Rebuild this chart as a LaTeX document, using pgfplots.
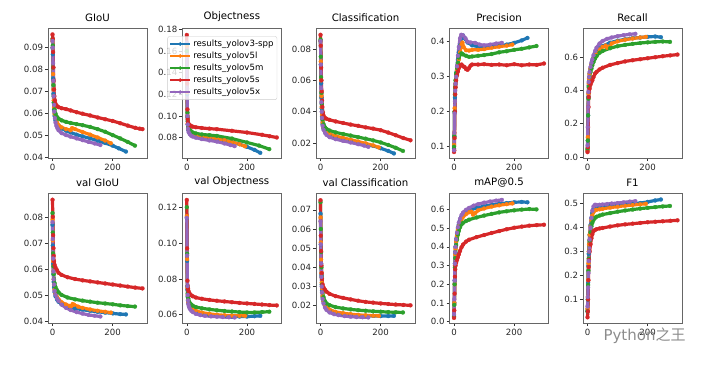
\documentclass[border=0pt]{standalone}
\usepackage{pgfplots}
\pgfplotsset{compat=1.18}
\usepackage{fontspec}
\setmainfont{DejaVu Sans}
\newfontfamily\cjk{Noto Sans CJK SC}
\definecolor{c1}{HTML}{1F77B4}
\definecolor{c2}{HTML}{FF7F0E}
\definecolor{c3}{HTML}{2CA02C}
\definecolor{c4}{HTML}{D62728}
\definecolor{c5}{HTML}{9467BD}
\pgfplotsset{
  panel/.style={scale only axis, width=99pt, height=129.5pt,
    xmin=-15, xmax=314, xtick={0,200}, xticklabels={0,200},
    scaled y ticks=false,
    tick align=outside, xtick pos=bottom, ytick pos=left,
    major tick length=3pt,
    tick style={black!80, line width=0.6pt},
    axis line style={black!60, line width=0.7pt},
    tick label style={font=\fontsize{8.6}{9}\selectfont, text=black!85},
    yticklabel style={inner sep=1.8pt},
    title style={font=\fontsize{10.2}{12}\selectfont, yshift=-1.5pt, inner sep=2pt},
    /pgf/number format/assume math mode=true,
    clip=true},
  y2/.style={yticklabel style={/pgf/number format/fixed, /pgf/number format/fixed zerofill, /pgf/number format/precision=2}},
  y1/.style={yticklabel style={/pgf/number format/fixed, /pgf/number format/fixed zerofill, /pgf/number format/precision=1}},
  ser/.style={color=#1, mark=*, mark size=2pt, line width=3.2pt, line join=round, mark options={line width=0.2pt}},
}
\begin{document}
\begin{tikzpicture}
\path[use as bounding box] (0pt,0pt) rectangle (712pt,369pt);
% ---------- GIoU
\begin{axis}[panel, y2, at={(48pt,211pt)}, anchor=south west, title={GIoU},
  ymin=0.0399, ymax=0.0987, ytick={0.04,0.05,0.06,0.07,0.08,0.09}]
\addplot[ser=c1] coordinates {(0,0.090)(1,0.087)(2,0.076)(3,0.069)(4,0.065)(5,0.062)(7,0.059)(10,0.057)(15,0.0555)(20,0.0545)(30,0.0533)(45,0.0523)(60,0.0515)(80,0.0505)(100,0.0497)(125,0.0488)(150,0.0478)(175,0.0467)(200,0.0455)(220,0.0443)(244,0.0428)};
\addplot[ser=c2] coordinates {(0,0.093)(1,0.090)(2,0.078)(3,0.071)(4,0.066)(5,0.063)(7,0.060)(10,0.058)(15,0.056)(20,0.0548)(30,0.0538)(45,0.0530)(60,0.0525)(65,0.0535)(75,0.0530)(100,0.0517)(125,0.0505)(150,0.0492)(175,0.0478)(194,0.0466)};
\addplot[ser=c3] coordinates {(0,0.094)(1,0.091)(2,0.081)(3,0.073)(4,0.068)(5,0.065)(7,0.062)(10,0.0600)(15,0.0585)(20,0.0578)(30,0.0570)(45,0.0563)(60,0.0558)(80,0.0553)(100,0.0548)(125,0.0540)(150,0.0530)(175,0.0518)(200,0.0503)(225,0.0488)(250,0.0472)(274,0.0455)};
\addplot[ser=c4] coordinates {(0,0.096)(1,0.094)(2,0.088)(3,0.081)(4,0.075)(5,0.071)(6,0.068)(8,0.066)(10,0.0645)(15,0.0635)(20,0.0630)(30,0.0625)(45,0.0621)(60,0.0615)(80,0.0607)(100,0.0600)(125,0.0592)(150,0.0583)(175,0.0575)(200,0.0567)(225,0.0557)(250,0.0546)(275,0.0536)(290,0.0532)(299,0.0530)};
\addplot[ser=c5] coordinates {(0,0.093)(1,0.090)(2,0.083)(3,0.075)(4,0.068)(5,0.064)(6,0.061)(8,0.058)(10,0.056)(13,0.0545)(16,0.0535)(20,0.0525)(30,0.0512)(45,0.0503)(60,0.0496)(80,0.0488)(100,0.0480)(120,0.0472)(140,0.0465)(159,0.0458)};
\end{axis}
% ---------- Objectness
\begin{axis}[panel, y2, at={(182.3pt,211pt)}, anchor=south west, title={Objectness},
  ymin=0.061, ymax=0.181, ytick={0.08,0.10,0.12,0.14,0.16,0.18},
  legend style={at={(-0.15,0.94)}, anchor=north west, font=\fontsize{8.6}{10}\selectfont,
    draw=black!20, fill=white, fill opacity=0.8, text opacity=1, rounded corners=2pt,
    inner sep=1.5pt, row sep=0pt},
  legend cell align=left,
  legend image code/.code={\draw[mark repeat=2,mark phase=2,line width=2.2pt,mark size=1.8pt] plot coordinates {(0pt,0pt) (10pt,0pt) (20pt,0pt)};}]
\addplot[ser=c1] coordinates {(0,0.160)(1,0.120)(2,0.099)(3,0.092)(5,0.087)(8,0.085)(12,0.0838)(20,0.0825)(30,0.0815)(50,0.0805)(75,0.0795)(100,0.0785)(125,0.0772)(150,0.0757)(175,0.0738)(200,0.0713)(225,0.0685)(244,0.0658)};
\addplot[ser=c2] coordinates {(0,0.165)(1,0.122)(2,0.100)(3,0.093)(5,0.088)(8,0.086)(12,0.0845)(20,0.0830)(30,0.0820)(50,0.0810)(75,0.0800)(100,0.0790)(125,0.0775)(150,0.0758)(175,0.0738)(194,0.0718)};
\addplot[ser=c3] coordinates {(0,0.160)(1,0.125)(2,0.103)(3,0.095)(5,0.090)(8,0.088)(12,0.0865)(20,0.0846)(30,0.0838)(50,0.0828)(75,0.0822)(100,0.0815)(150,0.0790)(200,0.0754)(240,0.0725)(274,0.0692)};
\addplot[ser=c4] coordinates {(0,0.175)(1,0.130)(2,0.106)(3,0.097)(4,0.094)(6,0.0925)(10,0.0915)(15,0.0905)(20,0.0900)(30,0.0895)(50,0.0888)(75,0.0882)(100,0.0877)(150,0.0862)(200,0.0846)(250,0.0825)(275,0.0812)(299,0.0800)};
\addplot[ser=c5] coordinates {(0,0.168)(1,0.125)(2,0.100)(3,0.092)(4,0.088)(6,0.085)(10,0.0830)(15,0.0815)(20,0.0808)(30,0.0798)(50,0.0785)(75,0.0773)(100,0.0762)(125,0.0745)(145,0.0730)(159,0.0720)};
\legend{results\_yolov3-spp,results\_yolov5l,results\_yolov5m,results\_yolov5s,results\_yolov5x}
\end{axis}
% ---------- Classification
\begin{axis}[panel, y2, at={(316pt,211pt)}, anchor=south west, title={Classification},
  ymin=0.0105, ymax=0.093, ytick={0.02,0.04,0.06,0.08}]
\addplot[ser=c1] coordinates {(0,0.085)(1,0.070)(2,0.058)(3,0.049)(4,0.042)(5,0.037)(7,0.032)(10,0.0295)(15,0.0275)(20,0.0265)(30,0.0253)(50,0.0240)(75,0.0228)(100,0.0217)(125,0.0206)(150,0.0194)(175,0.0182)(200,0.0167)(225,0.0150)(244,0.0134)};
\addplot[ser=c2] coordinates {(0,0.085)(1,0.072)(2,0.060)(3,0.050)(4,0.043)(5,0.038)(7,0.033)(10,0.0300)(15,0.0280)(20,0.0270)(30,0.0258)(50,0.0245)(75,0.0233)(100,0.0222)(125,0.0210)(150,0.0198)(175,0.0185)(194,0.0172)};
\addplot[ser=c3] coordinates {(0,0.086)(1,0.075)(2,0.062)(3,0.052)(4,0.045)(5,0.040)(7,0.035)(10,0.0320)(15,0.0300)(20,0.0290)(30,0.0280)(50,0.0268)(75,0.0258)(100,0.0248)(125,0.0238)(150,0.0228)(175,0.0217)(200,0.0204)(225,0.0188)(250,0.0170)(274,0.0150)};
\addplot[ser=c4] coordinates {(0,0.089)(1,0.082)(2,0.068)(3,0.060)(4,0.053)(5,0.047)(6,0.043)(8,0.0395)(10,0.0375)(15,0.0360)(20,0.0355)(30,0.0348)(50,0.0338)(75,0.0328)(100,0.0318)(125,0.0310)(150,0.0300)(175,0.0292)(200,0.0282)(225,0.0267)(250,0.0250)(275,0.0232)(299,0.0218)};
\addplot[ser=c5] coordinates {(0,0.085)(1,0.070)(2,0.055)(3,0.046)(4,0.040)(5,0.036)(7,0.031)(10,0.0285)(15,0.0265)(20,0.0252)(30,0.0238)(50,0.0225)(75,0.0214)(100,0.0204)(125,0.0193)(145,0.0184)(159,0.0176)};
\end{axis}
% ---------- Precision
\begin{axis}[panel, y1, at={(449.5pt,211pt)}, anchor=south west, title={Precision},
  ymin=0.068, ymax=0.438, ytick={0.1,0.2,0.3,0.4}]
\addplot[ser=c1] coordinates {(0,0.095)(1,0.13)(2,0.20)(3,0.24)(4,0.27)(5,0.28)(7,0.31)(10,0.33)(13,0.35)(16,0.37)(20,0.39)(25,0.412)(30,0.418)(35,0.410)(45,0.398)(60,0.390)(80,0.386)(100,0.385)(125,0.385)(150,0.388)(175,0.392)(200,0.397)(225,0.404)(244,0.411)};
\addplot[ser=c2] coordinates {(0,0.105)(1,0.14)(2,0.21)(3,0.25)(4,0.27)(5,0.28)(7,0.30)(10,0.32)(13,0.335)(16,0.350)(20,0.370)(25,0.392)(28,0.398)(32,0.385)(40,0.376)(50,0.375)(60,0.377)(80,0.377)(100,0.379)(125,0.383)(150,0.386)(175,0.389)(194,0.392)};
\addplot[ser=c3] coordinates {(0,0.10)(1,0.13)(2,0.20)(3,0.25)(4,0.27)(5,0.29)(7,0.31)(10,0.325)(13,0.34)(16,0.355)(20,0.363)(25,0.367)(30,0.364)(40,0.360)(50,0.357)(60,0.358)(80,0.360)(100,0.362)(125,0.365)(150,0.370)(175,0.373)(200,0.377)(225,0.380)(250,0.384)(274,0.388)};
\addplot[ser=c4] coordinates {(0,0.085)(1,0.090)(2,0.125)(3,0.20)(4,0.25)(5,0.27)(7,0.29)(10,0.305)(13,0.315)(16,0.325)(20,0.333)(25,0.335)(30,0.330)(35,0.328)(40,0.322)(45,0.320)(50,0.325)(55,0.332)(60,0.335)(80,0.335)(100,0.336)(125,0.334)(150,0.335)(175,0.333)(200,0.336)(225,0.333)(250,0.335)(275,0.334)(299,0.338)};
\addplot[ser=c5] coordinates {(0,0.09)(1,0.14)(2,0.195)(3,0.23)(4,0.26)(5,0.28)(7,0.30)(10,0.33)(13,0.36)(16,0.385)(20,0.41)(24,0.42)(30,0.418)(38,0.410)(45,0.400)(55,0.398)(70,0.397)(85,0.392)(100,0.390)(120,0.392)(140,0.395)(159,0.397)};
\end{axis}
% ---------- Recall
\begin{axis}[panel, y1, at={(583pt,211pt)}, anchor=south west, title={Recall},
  ymin=-0.005, ymax=0.77, ytick={0,0.2,0.4,0.6}]
\addplot[ser=c1] coordinates {(0,0.04)(1,0.10)(2,0.25)(3,0.36)(4,0.43)(5,0.46)(7,0.50)(10,0.53)(13,0.555)(16,0.575)(20,0.595)(25,0.615)(30,0.63)(40,0.65)(50,0.665)(75,0.685)(100,0.697)(125,0.705)(150,0.712)(175,0.716)(200,0.720)(225,0.722)(244,0.718)};
\addplot[ser=c2] coordinates {(0,0.04)(1,0.12)(2,0.30)(3,0.38)(4,0.44)(5,0.47)(7,0.50)(10,0.53)(13,0.55)(16,0.57)(20,0.59)(25,0.61)(30,0.625)(40,0.645)(50,0.660)(60,0.668)(65,0.655)(70,0.660)(80,0.680)(100,0.693)(125,0.703)(150,0.710)(175,0.716)(194,0.720)};
\addplot[ser=c3] coordinates {(0,0.05)(1,0.10)(2,0.25)(3,0.35)(4,0.42)(5,0.45)(7,0.48)(10,0.51)(13,0.53)(16,0.55)(20,0.57)(25,0.59)(30,0.605)(40,0.625)(50,0.635)(75,0.652)(100,0.664)(125,0.672)(150,0.678)(175,0.683)(200,0.687)(225,0.690)(250,0.692)(274,0.690)};
\addplot[ser=c4] coordinates {(0,0.03)(1,0.06)(2,0.18)(3,0.30)(4,0.36)(5,0.39)(7,0.41)(10,0.435)(13,0.45)(16,0.46)(20,0.48)(25,0.50)(30,0.51)(40,0.525)(50,0.535)(75,0.552)(100,0.563)(125,0.573)(150,0.580)(175,0.586)(200,0.592)(225,0.598)(250,0.604)(275,0.609)(299,0.614)};
\addplot[ser=c5] coordinates {(0,0.07)(1,0.18)(2,0.30)(3,0.39)(4,0.45)(5,0.48)(7,0.51)(10,0.54)(13,0.565)(16,0.585)(20,0.61)(25,0.635)(30,0.655)(40,0.680)(50,0.695)(65,0.708)(80,0.716)(100,0.724)(120,0.730)(140,0.735)(159,0.738)};
\end{axis}
% ---------- val GIoU
\begin{axis}[panel, y2, at={(48pt,46pt)}, anchor=south west, title={val GIoU},
  ymin=0.0392, ymax=0.089, ytick={0.04,0.05,0.06,0.07,0.08}]
\addplot[ser=c1] coordinates {(0,0.077)(1,0.069)(2,0.062)(3,0.058)(4,0.055)(5,0.053)(7,0.051)(10,0.0495)(15,0.0482)(20,0.0474)(30,0.0464)(50,0.0455)(75,0.0448)(100,0.0443)(125,0.0439)(150,0.0435)(175,0.0432)(200,0.0429)(225,0.0426)(244,0.0425)};
\addplot[ser=c2] coordinates {(0,0.079)(1,0.071)(2,0.063)(3,0.059)(4,0.056)(5,0.054)(7,0.052)(10,0.0505)(15,0.0492)(20,0.0483)(30,0.0472)(45,0.0463)(55,0.0458)(62,0.0456)(67,0.0465)(72,0.0462)(85,0.0455)(100,0.0450)(125,0.0444)(150,0.0439)(175,0.0435)(194,0.0432)};
\addplot[ser=c3] coordinates {(0,0.0815)(1,0.074)(2,0.066)(3,0.061)(4,0.058)(5,0.056)(7,0.0545)(10,0.0530)(15,0.0518)(20,0.0510)(30,0.0500)(50,0.0490)(75,0.0483)(100,0.0478)(125,0.0474)(150,0.0470)(175,0.0467)(200,0.0464)(225,0.0460)(250,0.0457)(274,0.0455)};
\addplot[ser=c4] coordinates {(0,0.0866)(1,0.080)(2,0.073)(3,0.068)(4,0.065)(5,0.063)(7,0.0615)(10,0.0605)(15,0.0595)(20,0.0585)(30,0.0577)(50,0.0568)(75,0.0561)(100,0.0556)(125,0.0552)(150,0.0548)(175,0.0544)(200,0.0540)(225,0.0536)(250,0.0532)(275,0.0528)(299,0.0525)};
\addplot[ser=c5] coordinates {(0,0.078)(1,0.0715)(2,0.064)(3,0.059)(4,0.056)(5,0.054)(7,0.0515)(10,0.0500)(15,0.0487)(20,0.0477)(30,0.0463)(45,0.0450)(60,0.0442)(80,0.0434)(100,0.0428)(120,0.0423)(140,0.0420)(159,0.0417)};
\end{axis}
% ---------- val Objectness
\begin{axis}[panel, y2, at={(182.3pt,46pt)}, anchor=south west, title={val Objectness},
  ymin=0.0554, ymax=0.1276, ytick={0.06,0.08,0.10,0.12}]
\addplot[ser=c1] coordinates {(0,0.114)(1,0.090)(2,0.074)(3,0.070)(4,0.068)(5,0.0665)(7,0.065)(10,0.064)(15,0.063)(20,0.0623)(30,0.0615)(50,0.0606)(75,0.0600)(100,0.0596)(125,0.0593)(150,0.0591)(175,0.0590)(200,0.0590)(225,0.0592)(244,0.0594)};
\addplot[ser=c2] coordinates {(0,0.115)(1,0.091)(2,0.075)(3,0.071)(4,0.0685)(5,0.067)(7,0.0655)(10,0.0645)(15,0.0636)(20,0.0630)(30,0.0622)(50,0.0612)(75,0.0605)(100,0.0600)(125,0.0597)(150,0.0595)(175,0.0594)(194,0.0594)};
\addplot[ser=c3] coordinates {(0,0.120)(1,0.094)(2,0.076)(3,0.072)(4,0.070)(5,0.069)(7,0.0675)(10,0.0665)(15,0.0657)(20,0.0650)(30,0.0643)(50,0.0636)(75,0.0630)(100,0.0625)(125,0.0621)(150,0.0618)(175,0.0615)(200,0.0613)(225,0.0613)(250,0.0615)(274,0.0617)};
\addplot[ser=c4] coordinates {(0,0.124)(1,0.097)(2,0.079)(3,0.076)(4,0.0745)(5,0.0735)(7,0.0725)(10,0.0716)(15,0.0708)(20,0.0703)(30,0.0696)(50,0.0689)(75,0.0683)(100,0.0678)(125,0.0674)(150,0.0670)(175,0.0666)(200,0.0663)(225,0.0660)(250,0.0657)(275,0.0654)(299,0.0652)};
\addplot[ser=c5] coordinates {(0,0.114)(1,0.093)(2,0.076)(3,0.071)(4,0.068)(5,0.066)(7,0.0645)(10,0.0633)(15,0.0622)(20,0.0615)(30,0.0605)(45,0.0598)(60,0.0594)(80,0.0591)(100,0.0589)(120,0.0587)(140,0.0586)(159,0.0585)};
\end{axis}
% ---------- val Classification
\begin{axis}[panel, y2, at={(316pt,46pt)}, anchor=south west, title={val Classification},
  ymin=0.011, ymax=0.0785, ytick={0.02,0.03,0.04,0.05,0.06,0.07}]
\addplot[ser=c1] coordinates {(0,0.068)(1,0.052)(2,0.042)(3,0.036)(4,0.031)(5,0.028)(7,0.0245)(10,0.0222)(15,0.0200)(20,0.0189)(30,0.0177)(50,0.0165)(75,0.0158)(100,0.0153)(125,0.0150)(150,0.0148)(175,0.0147)(200,0.0146)(225,0.0146)(244,0.0147)};
\addplot[ser=c2] coordinates {(0,0.066)(1,0.053)(2,0.044)(3,0.037)(4,0.032)(5,0.029)(7,0.025)(10,0.0225)(15,0.0203)(20,0.0192)(30,0.0180)(50,0.0168)(75,0.0161)(100,0.0156)(125,0.0152)(150,0.0150)(175,0.0148)(194,0.0147)};
\addplot[ser=c3] coordinates {(0,0.074)(1,0.060)(2,0.048)(3,0.040)(4,0.035)(5,0.031)(7,0.027)(10,0.0245)(15,0.0223)(20,0.0212)(30,0.0203)(50,0.0193)(75,0.0186)(100,0.0181)(125,0.0177)(150,0.0174)(175,0.0171)(200,0.0169)(225,0.0167)(250,0.0166)(274,0.0165)};
\addplot[ser=c4] coordinates {(0,0.075)(1,0.0565)(2,0.0485)(3,0.041)(4,0.037)(5,0.034)(7,0.031)(10,0.0295)(15,0.0283)(20,0.0273)(30,0.0262)(50,0.0250)(75,0.0241)(100,0.0233)(125,0.0226)(150,0.0220)(175,0.0216)(200,0.0212)(225,0.0209)(250,0.0206)(275,0.0204)(299,0.0202)};
\addplot[ser=c5] coordinates {(0,0.064)(1,0.052)(2,0.042)(3,0.035)(4,0.030)(5,0.027)(7,0.0235)(10,0.0212)(15,0.0190)(20,0.0178)(30,0.0165)(45,0.0156)(60,0.0151)(80,0.0146)(100,0.0143)(120,0.0141)(140,0.0140)(159,0.0139)};
\end{axis}
% ---------- mAP@0.5
\begin{axis}[panel, y1, at={(449.5pt,46pt)}, anchor=south west, title={mAP@0.5},
  ymin=-0.007, ymax=0.685, ytick={0,0.1,0.2,0.3,0.4,0.5,0.6}]
\addplot[ser=c1] coordinates {(0,0.03)(1,0.10)(2,0.22)(3,0.31)(4,0.37)(5,0.40)(7,0.44)(10,0.47)(13,0.50)(16,0.52)(20,0.54)(25,0.558)(30,0.570)(40,0.585)(50,0.595)(75,0.608)(100,0.617)(125,0.624)(150,0.630)(175,0.634)(200,0.638)(225,0.640)(244,0.638)};
\addplot[ser=c2] coordinates {(0,0.025)(1,0.10)(2,0.20)(3,0.30)(4,0.36)(5,0.39)(7,0.43)(10,0.46)(13,0.49)(16,0.51)(20,0.53)(25,0.548)(30,0.560)(40,0.575)(50,0.585)(58,0.588)(63,0.572)(70,0.580)(80,0.595)(100,0.605)(125,0.615)(150,0.622)(175,0.628)(194,0.632)};
\addplot[ser=c3] coordinates {(0,0.03)(1,0.09)(2,0.20)(3,0.29)(4,0.34)(5,0.37)(7,0.41)(10,0.44)(13,0.465)(16,0.485)(20,0.505)(25,0.520)(30,0.528)(40,0.538)(50,0.545)(75,0.557)(100,0.567)(125,0.576)(150,0.584)(175,0.590)(200,0.595)(225,0.599)(250,0.602)(274,0.600)};
\addplot[ser=c4] coordinates {(0,0.02)(1,0.06)(2,0.15)(3,0.24)(4,0.28)(5,0.30)(7,0.315)(10,0.330)(13,0.345)(16,0.360)(20,0.378)(25,0.398)(30,0.412)(40,0.428)(50,0.438)(75,0.452)(100,0.463)(125,0.474)(150,0.484)(175,0.494)(200,0.502)(225,0.508)(250,0.513)(275,0.516)(299,0.518)};
\addplot[ser=c5] coordinates {(0,0.04)(1,0.12)(2,0.22)(3,0.31)(4,0.37)(5,0.40)(7,0.44)(10,0.475)(13,0.505)(16,0.530)(20,0.550)(25,0.570)(30,0.583)(40,0.598)(50,0.608)(65,0.620)(80,0.628)(100,0.636)(120,0.642)(140,0.647)(159,0.651)};
\end{axis}
% ---------- F1
\begin{axis}[panel, y1, at={(583pt,46pt)}, anchor=south west, title={F1},
  ymin=0.0013, ymax=0.542, ytick={0.1,0.2,0.3,0.4,0.5}]
\addplot[ser=c1] coordinates {(0,0.05)(1,0.10)(2,0.17)(3,0.24)(4,0.29)(5,0.33)(7,0.37)(10,0.41)(13,0.44)(16,0.46)(20,0.475)(25,0.483)(30,0.486)(40,0.488)(50,0.489)(75,0.491)(100,0.493)(125,0.495)(150,0.498)(175,0.502)(200,0.507)(225,0.513)(244,0.517)};
\addplot[ser=c2] coordinates {(0,0.06)(1,0.11)(2,0.18)(3,0.25)(4,0.30)(5,0.33)(7,0.37)(10,0.405)(13,0.43)(16,0.45)(20,0.465)(25,0.472)(30,0.474)(40,0.476)(50,0.478)(75,0.483)(100,0.487)(125,0.491)(150,0.494)(175,0.497)(194,0.499)};
\addplot[ser=c3] coordinates {(0,0.05)(1,0.10)(2,0.16)(3,0.22)(4,0.27)(5,0.30)(7,0.345)(10,0.38)(13,0.405)(16,0.42)(20,0.432)(25,0.440)(30,0.445)(40,0.450)(50,0.454)(75,0.460)(100,0.466)(125,0.471)(150,0.475)(175,0.479)(200,0.482)(225,0.485)(250,0.488)(274,0.490)};
\addplot[ser=c4] coordinates {(0,0.025)(1,0.05)(2,0.10)(3,0.18)(4,0.235)(5,0.265)(7,0.30)(10,0.33)(13,0.355)(16,0.372)(20,0.385)(25,0.390)(30,0.393)(40,0.396)(50,0.398)(75,0.404)(100,0.409)(125,0.413)(150,0.416)(175,0.419)(200,0.422)(225,0.424)(250,0.426)(275,0.428)(299,0.430)};
\addplot[ser=c5] coordinates {(0,0.07)(1,0.11)(2,0.15)(3,0.21)(4,0.26)(5,0.30)(7,0.35)(10,0.40)(13,0.44)(16,0.47)(20,0.488)(25,0.495)(30,0.494)(40,0.495)(50,0.496)(65,0.498)(80,0.500)(100,0.502)(120,0.505)(140,0.508)(159,0.510)};
\end{axis}
\node[text=black!45, font=\fontsize{15}{16}\selectfont, anchor=west] at (600pt,33pt) {Python{\cjk 之王}};
\end{tikzpicture}
\end{document}
